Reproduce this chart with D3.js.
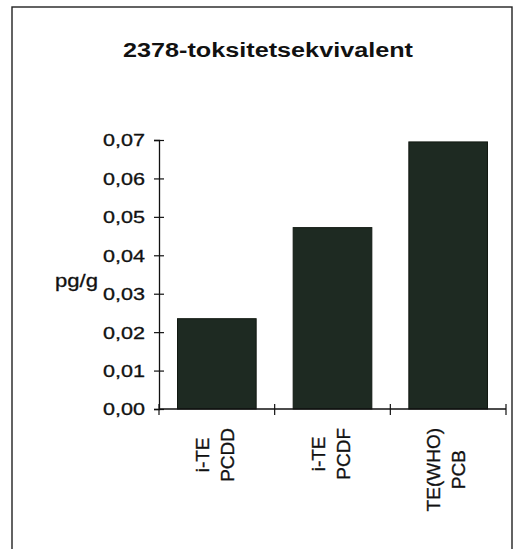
<!DOCTYPE html>
<html>
<head>
<meta charset="utf-8">
<script src="https://cdn.jsdelivr.net/npm/d3@7"></script>
<style>
  html, body { margin: 0; padding: 0; background: #ffffff; }
  svg { display: block; font-family: "Liberation Sans", Arial, sans-serif; }
</style>
</head>
<body>
<div id="chart"></div>
<script>
// ---- data ----
const categories = [["i-TE", "PCDD"], ["i-TE", "PCDF"], ["TE(WHO)", "PCB"]];
const values = [0.0235, 0.0472, 0.0695];
const yTicks = [0, 0.01, 0.02, 0.03, 0.04, 0.05, 0.06, 0.07];
const yTickLabels = ["0,00", "0,01", "0,02", "0,03", "0,04", "0,05", "0,06", "0,07"];
const title = "2378-toksitetsekvivalent";
const yLabel = "pg/g";

// ---- layout ----
const W = 515, H = 549;
const axisX = 159, axisY = 409, topY = 140, rightX = 506;

const svg = d3.select("#chart").append("svg").attr("width", W).attr("height", H);

// frame
svg.append("rect")
  .attr("x", 12).attr("y", 7).attr("width", 500).attr("height", 580)
  .attr("fill", "none").attr("stroke", "#222").attr("stroke-width", 1.4);

// title
svg.append("text")
  .attr("x", 123).attr("y", 57)
  .attr("font-size", 19.5).attr("font-weight", "bold").attr("fill", "#111")
  .attr("textLength", 290).attr("lengthAdjust", "spacingAndGlyphs")
  .text(title);

// scales
const x = d3.scaleBand()
  .domain(d3.range(categories.length))
  .range([axisX, rightX])
  .paddingInner(0.32).paddingOuter(0.16);
const y = d3.scaleLinear().domain([0, 0.07]).range([axisY, topY]);

// bars
svg.append("g").selectAll("rect")
  .data(values)
  .join("rect")
  .attr("x", (d, i) => x(i))
  .attr("y", d => y(d))
  .attr("width", x.bandwidth())
  .attr("height", d => y(0) - y(d))
  .attr("fill", "#1e2a22")
  .attr("stroke", "#111811").attr("stroke-width", 1);

// y axis
const yAxis = svg.append("g")
  .attr("transform", `translate(${axisX},0)`)
  .call(d3.axisLeft(y).tickValues(yTicks).tickSize(5).tickPadding(0)
        .tickFormat((d, i) => yTickLabels[i]));
yAxis.select(".domain").attr("stroke", "#111").attr("stroke-width", 1.3);
yAxis.selectAll(".tick line").attr("x1", -5).attr("x2", 5).attr("stroke", "#111").attr("stroke-width", 1.2);
yAxis.selectAll(".tick text")
  .attr("text-anchor", "start").attr("x", -56).attr("dy", "0.36em")
  .attr("font-size", 16.5).attr("fill", "#111")
  .attr("stroke", "#111").attr("stroke-width", 0.3)
  .attr("font-family", "Liberation Sans, Arial, sans-serif")
  .attr("textLength", 42).attr("lengthAdjust", "spacingAndGlyphs");

// x axis
const step = x.step();
const boundaries = d3.range(categories.length + 1).map(i => axisX + i * step);
const xg = svg.append("g");
xg.append("line")
  .attr("x1", axisX).attr("x2", rightX).attr("y1", axisY).attr("y2", axisY)
  .attr("stroke", "#111").attr("stroke-width", 1.3);
xg.selectAll("line.tk").data(boundaries).join("line")
  .attr("class", "tk")
  .attr("x1", d => d).attr("x2", d => d)
  .attr("y1", axisY - 5).attr("y2", axisY + 6)
  .attr("stroke", "#111").attr("stroke-width", 1.2);

// x category labels (rotated, two lines, centered lines, block anchored at top)
const labTop = 428;
categories.forEach((lines, i) => {
  const cx = x(i) + x.bandwidth() / 2;
  const g = svg.append("g").attr("transform", `translate(${cx},${labTop}) rotate(-90)`);
  const texts = lines.map((t, j) => g.append("text")
    .attr("font-size", 19).attr("fill", "#111")
    .attr("stroke", "#111").attr("stroke-width", 0.35)
    .attr("y", j === 0 ? -8 : 17)
    .attr("text-anchor", "middle")
    .text(t));
  const maxLen = d3.max(texts, t => t.node().getComputedTextLength());
  texts.forEach(t => t.attr("x", -maxLen / 2));
});

// y label
svg.append("text")
  .attr("x", 55).attr("y", 287)
  .attr("font-size", 18).attr("fill", "#111")
  .attr("stroke", "#111").attr("stroke-width", 0.3)
  .attr("textLength", 43).attr("lengthAdjust", "spacingAndGlyphs")
  .text(yLabel);
</script>
</body>
</html>
